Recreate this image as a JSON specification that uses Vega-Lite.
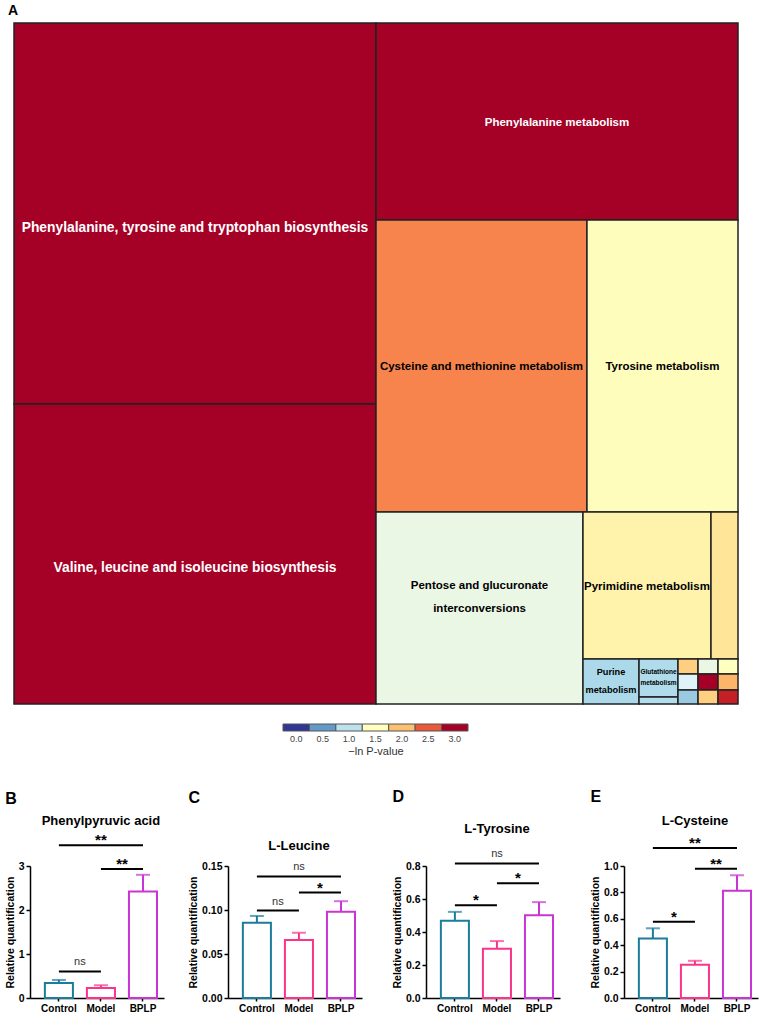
{
  "$schema": "https://vega.github.io/schema/vega-lite/v6.json",
  "padding": {"left": 5, "top": 4, "right": 5, "bottom": 5},
  "background": "white",
  "config": {
    "font": "Liberation Sans",
    "view": {"stroke": null},
    "axis": {"grid": false, "labelOverlap": false},
    "title": {"fontWeight": "bold", "color": "black", "font": "Liberation Sans"}
  },
  "datasets": {
    "treemap": [
      {"label": "Phenylalanine, tyrosine and tryptophan biosynthesis", "v": 3.0, "x0": 0, "x1": 50, "y0": 0, "y1": 55.95},
      {"label": "Valine, leucine and isoleucine biosynthesis", "v": 3.0, "x0": 0, "x1": 50, "y0": 55.95, "y1": 100},
      {"label": "Phenylalanine metabolism", "v": 3.0, "x0": 50, "x1": 100, "y0": 0, "y1": 28.93},
      {"label": "Cysteine and methionine metabolism", "v": 2.3, "x0": 50, "x1": 79.14, "y0": 28.93, "y1": 71.81},
      {"label": "Tyrosine metabolism", "v": 1.52, "x0": 79.14, "x1": 100, "y0": 28.93, "y1": 71.81},
      {"label": "Pentose and glucuronate\ninterconversions", "v": 1.3, "x0": 50, "x1": 78.59, "y0": 71.81, "y1": 100},
      {"label": "Pyrimidine metabolism", "v": 1.62, "x0": 78.59, "x1": 96.27, "y0": 71.81, "y1": 93.39},
      {"label": "", "v": 1.75, "x0": 96.27, "x1": 100, "y0": 71.81, "y1": 93.39},
      {"label": "Purine\nmetabolism", "v": 0.9, "x0": 78.59, "x1": 86.33, "y0": 93.39, "y1": 100},
      {"label": "Glutathione\nmetabolism", "v": 0.92, "x0": 86.33, "x1": 91.71, "y0": 93.39, "y1": 98.97},
      {"label": "", "v": 0.95, "x0": 86.33, "x1": 91.71, "y0": 98.97, "y1": 100},
      {"label": "", "v": 1.9, "x0": 91.71, "x1": 94.48, "y0": 93.39, "y1": 95.59},
      {"label": "", "v": 1.3, "x0": 94.48, "x1": 97.24, "y0": 93.39, "y1": 95.59},
      {"label": "", "v": 1.5, "x0": 97.24, "x1": 100, "y0": 93.39, "y1": 95.59},
      {"label": "", "v": 1.2, "x0": 91.71, "x1": 94.48, "y0": 95.59, "y1": 97.94},
      {"label": "", "v": 3.0, "x0": 94.48, "x1": 97.24, "y0": 95.59, "y1": 97.94},
      {"label": "", "v": 2.05, "x0": 97.24, "x1": 100, "y0": 95.59, "y1": 97.94},
      {"label": "", "v": 0.8, "x0": 91.71, "x1": 94.48, "y0": 97.94, "y1": 100},
      {"label": "", "v": 1.9, "x0": 94.48, "x1": 97.24, "y0": 97.94, "y1": 100},
      {"label": "", "v": 2.8, "x0": 97.24, "x1": 100, "y0": 97.94, "y1": 100}
    ],
    "legend": [
      {"lab": "0.0", "v": 0}, {"lab": "0.5", "v": 0.5}, {"lab": "1.0", "v": 1}, {"lab": "1.5", "v": 1.5},
      {"lab": "2.0", "v": 2}, {"lab": "2.5", "v": 2.5}, {"lab": "3.0", "v": 3}
    ],
    "bars": [
      {"panel": "B", "group": "Control", "mean": 0.34, "upper": 0.41},
      {"panel": "B", "group": "Model", "mean": 0.23, "upper": 0.29},
      {"panel": "B", "group": "BPLP", "mean": 2.42, "upper": 2.80},
      {"panel": "C", "group": "Control", "mean": 0.0854, "upper": 0.0933},
      {"panel": "C", "group": "Model", "mean": 0.0659, "upper": 0.0741},
      {"panel": "C", "group": "BPLP", "mean": 0.0979, "upper": 0.110},
      {"panel": "D", "group": "Control", "mean": 0.468, "upper": 0.522},
      {"panel": "D", "group": "Model", "mean": 0.299, "upper": 0.345},
      {"panel": "D", "group": "BPLP", "mean": 0.502, "upper": 0.581},
      {"panel": "E", "group": "Control", "mean": 0.450, "upper": 0.528},
      {"panel": "E", "group": "Model", "mean": 0.251, "upper": 0.282},
      {"panel": "E", "group": "BPLP", "mean": 0.812, "upper": 0.930}
    ],
    "sig": [
      {"panel": "B", "g1": "Control", "g2": "Model", "y": 0.60, "ty": 0.81, "label": "ns", "span": 1},
      {"panel": "B", "g1": "Model", "g2": "BPLP", "y": 2.93, "ty": 3.13, "label": "**", "span": 1},
      {"panel": "B", "g1": "Control", "g2": "BPLP", "y": 3.47, "ty": 3.69, "label": "**", "span": 2},
      {"panel": "C", "g1": "Control", "g2": "Model", "y": 0.0993, "ty": 0.109, "label": "ns", "span": 1},
      {"panel": "C", "g1": "Model", "g2": "BPLP", "y": 0.120, "ty": 0.130, "label": "*", "span": 1},
      {"panel": "C", "g1": "Control", "g2": "BPLP", "y": 0.138, "ty": 0.149, "label": "ns", "span": 2},
      {"panel": "D", "g1": "Control", "g2": "Model", "y": 0.562, "ty": 0.617, "label": "*", "span": 1},
      {"panel": "D", "g1": "Model", "g2": "BPLP", "y": 0.695, "ty": 0.749, "label": "*", "span": 1},
      {"panel": "D", "g1": "Control", "g2": "BPLP", "y": 0.815, "ty": 0.871, "label": "ns", "span": 2},
      {"panel": "E", "g1": "Control", "g2": "Model", "y": 0.578, "ty": 0.646, "label": "*", "span": 1},
      {"panel": "E", "g1": "Model", "g2": "BPLP", "y": 0.98, "ty": 1.044, "label": "**", "span": 1},
      {"panel": "E", "g1": "Control", "g2": "BPLP", "y": 1.136, "ty": 1.203, "label": "**", "span": 2}
    ],
    "titles": [
      {"panel": "B", "title": "Phenylpyruvic acid", "ty": 4.02},
      {"panel": "C", "title": "L-Leucine", "ty": 0.173},
      {"panel": "D", "title": "L-Tyrosine", "ty": 1.024},
      {"panel": "E", "title": "L-Cysteine", "ty": 1.344}
    ]
  },
  "resolve": {"scale": {"color": "independent", "fill": "independent", "stroke": "independent"}},
  "spacing": 32,
  "vconcat": [
    {
      "spacing": 18,
      "vconcat": [
        {
          "width": 708,
          "height": 681,
          "title": {"text": "A", "anchor": "start", "frame": "group", "dx": -22, "fontSize": 14, "offset": 4},
          "data": {"name": "treemap"},
          "layer": [
            {
              "mark": {"type": "rect", "stroke": "#222222", "strokeWidth": 1.5},
              "encoding": {
                "x": {"field": "x0", "type": "quantitative", "scale": {"domain": [0, 100], "range": [-16, 708], "nice": false, "zero": false}, "axis": null},
                "x2": {"field": "x1"},
                "y": {"field": "y0", "type": "quantitative", "scale": {"domain": [0, 100], "nice": false, "zero": false, "reverse": true}, "axis": null},
                "y2": {"field": "y1"},
                "fill": {"field": "v", "type": "quantitative", "legend": null,
                  "scale": {"domain": [0, 0.3, 0.6, 0.9, 1.2, 1.5, 1.8, 2.1, 2.4, 2.7, 3.0],
                    "range": ["#313695", "#4575b4", "#74add1", "#abd9e9", "#e0f3f8", "#ffffbf", "#fee090", "#fdae61", "#f46d43", "#d73027", "#a50026"],
                    "interpolate": "rgb"}}
              }
            },
            {
              "transform": [
                {"filter": "datum.label != '' && datum.x0 == 0"},
                {"calculate": "(datum.x0 + datum.x1) / 2", "as": "cx"},
                {"calculate": "(datum.y0 + datum.y1) / 2", "as": "cy"}
              ],
              "mark": {"type": "text", "fontWeight": "bold", "fontSize": 13.8, "baseline": "middle", "align": "center", "dy": 14},
              "encoding": {
                "x": {"field": "cx", "type": "quantitative"},
                "y": {"field": "cy", "type": "quantitative"},
                "text": {"field": "label"},
                "color": {"condition": {"test": "datum.v >= 2.9", "value": "white"}, "value": "black"}
              }
            },
            {
              "transform": [
                {"filter": "datum.label != '' && datum.x0 > 0 && (datum.x1 - datum.x0) > 10 && indexof(datum.label, '\\n') < 0"},
                {"calculate": "(datum.x0 + datum.x1) / 2", "as": "cx"},
                {"calculate": "(datum.y0 + datum.y1) / 2", "as": "cy"}
              ],
              "mark": {"type": "text", "fontWeight": "bold", "fontSize": 11.5, "baseline": "middle", "align": "center", "dy": 1},
              "encoding": {
                "x": {"field": "cx", "type": "quantitative"},
                "y": {"field": "cy", "type": "quantitative"},
                "text": {"field": "label"},
                "color": {"condition": {"test": "datum.v >= 2.9", "value": "white"}, "value": "black"}
              }
            },
            {
              "transform": [
                {"filter": "indexof(datum.label, 'Pentose') == 0"},
                {"calculate": "(datum.x0 + datum.x1) / 2", "as": "cx"},
                {"calculate": "(datum.y0 + datum.y1) / 2", "as": "cy"}
              ],
              "mark": {"type": "text", "fontWeight": "bold", "fontSize": 11.5, "lineBreak": "\n", "lineHeight": 23, "baseline": "middle", "align": "center", "dy": -22, "color": "black"},
              "encoding": {
                "x": {"field": "cx", "type": "quantitative"},
                "y": {"field": "cy", "type": "quantitative"},
                "text": {"field": "label"}
              }
            },
            {
              "transform": [
                {"filter": "indexof(datum.label, 'Purine') == 0"},
                {"calculate": "(datum.x0 + datum.x1) / 2", "as": "cx"},
                {"calculate": "(datum.y0 + datum.y1) / 2", "as": "cy"}
              ],
              "mark": {"type": "text", "fontWeight": "bold", "fontSize": 9.2, "lineBreak": "\n", "lineHeight": 18, "baseline": "middle", "align": "center", "dy": -9, "color": "black"},
              "encoding": {
                "x": {"field": "cx", "type": "quantitative"},
                "y": {"field": "cy", "type": "quantitative"},
                "text": {"field": "label"}
              }
            },
            {
              "transform": [
                {"filter": "indexof(datum.label, 'Glutathione') == 0"},
                {"calculate": "(datum.x0 + datum.x1) / 2", "as": "cx"},
                {"calculate": "(datum.y0 + datum.y1) / 2", "as": "cy"}
              ],
              "mark": {"type": "text", "fontWeight": "bold", "fontSize": 6.5, "lineBreak": "\n", "lineHeight": 11, "baseline": "middle", "align": "center", "dy": -6, "color": "black"},
              "encoding": {
                "x": {"field": "cx", "type": "quantitative"},
                "y": {"field": "cy", "type": "quantitative"},
                "text": {"field": "label"}
              }
            }
          ]
        },
        {
          "width": 708,
          "height": 7,
          "data": {"name": "legend"},
          "mark": {"type": "rect", "stroke": "#555555", "strokeWidth": 1},
          "encoding": {
            "x": {"field": "lab", "type": "ordinal", "scale": {"range": [253, 438], "paddingInner": 0, "paddingOuter": 0},
              "axis": {"orient": "bottom", "domain": false, "ticks": false, "labelAngle": 0, "labelFontSize": 9, "labelColor": "#444444", "labelPadding": 3,
                "title": "−ln P-value", "titleFontSize": 11, "titleFontWeight": "normal", "titleColor": "#333333", "titlePadding": 2}},
            "fill": {"field": "v", "type": "quantitative", "legend": null,
              "scale": {"domain": [0, 0.3, 0.6, 0.9, 1.2, 1.5, 1.8, 2.1, 2.4, 2.7, 3.0],
                "range": ["#313695", "#4575b4", "#74add1", "#abd9e9", "#e0f3f8", "#ffffbf", "#fee090", "#fdae61", "#f46d43", "#d73027", "#a50026"],
                "interpolate": "rgb"}}
          }
        }
      ]
    },
    {
      "spacing": 64,
      "bounds": "flush",
      "resolve": {"scale": {"x": "independent", "y": "independent"}},
      "hconcat": [
        {
          "width": 134, "height": 132,
          "title": {"text": "B", "anchor": "start", "frame": "bounds", "fontSize": 16, "offset": 8},
          "layer": [
            {"data": {"name": "bars"}, "transform": [{"filter": "datum.panel == 'B'"}],
              "mark": {"type": "bar", "fill": "white", "strokeWidth": 2},
              "encoding": {
                "x": {"field": "group", "type": "nominal", "sort": null, "scale": {"domain": ["Control", "Model", "BPLP"], "paddingInner": 0.333, "paddingOuter": 0.26, "align": 0.68},
                  "axis": {"title": null, "labelAngle": 0, "labelFontSize": 10, "labelFontWeight": "bold", "labelColor": "black", "labelPadding": 2, "domainColor": "black", "domainWidth": 1.5, "tickColor": "black", "tickWidth": 1.5, "tickSize": 3}},
                "y": {"field": "mean", "type": "quantitative", "scale": {"domain": [0, 3], "nice": false},
                  "axis": {"values": [0, 1, 2, 3], "tickCount": 10, "format": "d", "labelOverlap": false, "title": "Relative quantification", "titleFontSize": 10.5, "titleFontWeight": "bold", "titleColor": "black", "titlePadding": 3, "labelFontSize": 10.5, "labelFontWeight": "bold", "labelColor": "black", "labelPadding": 2, "domainColor": "black", "domainWidth": 1.5, "tickColor": "black", "tickWidth": 1.5, "tickSize": 4}},
                "stroke": {"field": "group", "type": "nominal", "legend": null, "scale": {"domain": ["Control", "Model", "BPLP"], "range": ["#1c7c9c", "#f9348a", "#c934d4"]}}
              }},
            {"data": {"name": "bars"}, "transform": [{"filter": "datum.panel == 'B'"}],
              "mark": {"type": "rule", "strokeWidth": 2},
              "encoding": {
                "x": {"field": "group", "type": "nominal"},
                "y": {"field": "mean", "type": "quantitative"}, "y2": {"field": "upper"},
                "color": {"field": "group", "type": "nominal", "legend": null, "scale": {"domain": ["Control", "Model", "BPLP"], "range": ["#1c7c9c", "#f9348a", "#c934d4"]}}
              }},
            {"data": {"name": "bars"}, "transform": [{"filter": "datum.panel == 'B'"}],
              "mark": {"type": "tick", "thickness": 2, "size": 14, "orient": "horizontal"},
              "encoding": {
                "x": {"field": "group", "type": "nominal"},
                "y": {"field": "upper", "type": "quantitative"},
                "color": {"field": "group", "type": "nominal", "legend": null, "scale": {"domain": ["Control", "Model", "BPLP"], "range": ["#1c7c9c", "#f9348a", "#c934d4"]}}
              }},
            {"data": {"name": "sig"}, "transform": [{"filter": "datum.panel == 'B'"}],
              "mark": {"type": "rule", "strokeWidth": 2, "color": "black"},
              "encoding": {"x": {"field": "g1", "type": "nominal"}, "x2": {"field": "g2"}, "y": {"field": "y", "type": "quantitative"}}},
            {"data": {"name": "sig"}, "transform": [{"filter": "datum.panel == 'B' && datum.span == 1 && datum.label == 'ns'"}],
              "mark": {"type": "text", "fontSize": 11, "color": "#333333", "baseline": "middle"},
              "encoding": {"x": {"field": "g1", "type": "nominal", "bandPosition": 1.25}, "y": {"field": "ty", "type": "quantitative"}, "text": {"field": "label"}}},
            {"data": {"name": "sig"}, "transform": [{"filter": "datum.panel == 'B' && datum.span == 1 && datum.label != 'ns'"}],
              "mark": {"type": "text", "fontSize": 15, "fontWeight": "bold", "color": "black", "baseline": "middle", "dy": 4},
              "encoding": {"x": {"field": "g1", "type": "nominal", "bandPosition": 1.25}, "y": {"field": "ty", "type": "quantitative"}, "text": {"field": "label"}}},
            {"data": {"name": "sig"}, "transform": [{"filter": "datum.panel == 'B' && datum.span == 2 && datum.label == 'ns'"}],
              "mark": {"type": "text", "fontSize": 11, "color": "#333333", "baseline": "middle"},
              "encoding": {"x": {"field": "g1", "type": "nominal", "bandPosition": 2.0}, "y": {"field": "ty", "type": "quantitative"}, "text": {"field": "label"}}},
            {"data": {"name": "sig"}, "transform": [{"filter": "datum.panel == 'B' && datum.span == 2 && datum.label != 'ns'"}],
              "mark": {"type": "text", "fontSize": 15, "fontWeight": "bold", "color": "black", "baseline": "middle", "dy": 4},
              "encoding": {"x": {"field": "g1", "type": "nominal", "bandPosition": 2.0}, "y": {"field": "ty", "type": "quantitative"}, "text": {"field": "label"}}},
            {"data": {"name": "titles"}, "transform": [{"filter": "datum.panel == 'B'"}],
              "mark": {"type": "text", "fontSize": 13, "fontWeight": "bold", "color": "black", "baseline": "middle"},
              "encoding": {"x": {"datum": "Model"}, "y": {"field": "ty", "type": "quantitative"}, "text": {"field": "title"}}}
          ]
        },
        {
          "width": 134, "height": 132,
          "title": {"text": "C", "anchor": "start", "frame": "bounds", "fontSize": 16, "offset": 34},
          "layer": [
            {"data": {"name": "bars"}, "transform": [{"filter": "datum.panel == 'C'"}],
              "mark": {"type": "bar", "fill": "white", "strokeWidth": 2},
              "encoding": {
                "x": {"field": "group", "type": "nominal", "sort": null, "scale": {"domain": ["Control", "Model", "BPLP"], "paddingInner": 0.333, "paddingOuter": 0.26, "align": 0.68},
                  "axis": {"title": null, "labelAngle": 0, "labelFontSize": 10, "labelFontWeight": "bold", "labelColor": "black", "labelPadding": 2, "domainColor": "black", "domainWidth": 1.5, "tickColor": "black", "tickWidth": 1.5, "tickSize": 3}},
                "y": {"field": "mean", "type": "quantitative", "scale": {"domain": [0, 0.15], "nice": false},
                  "axis": {"values": [0, 0.05, 0.10, 0.15], "tickCount": 10, "format": ".2f", "labelOverlap": false, "title": "Relative quantification", "titleFontSize": 10.5, "titleFontWeight": "bold", "titleColor": "black", "titlePadding": 3, "labelFontSize": 10.5, "labelFontWeight": "bold", "labelColor": "black", "labelPadding": 2, "domainColor": "black", "domainWidth": 1.5, "tickColor": "black", "tickWidth": 1.5, "tickSize": 4}},
                "stroke": {"field": "group", "type": "nominal", "legend": null, "scale": {"domain": ["Control", "Model", "BPLP"], "range": ["#1c7c9c", "#f9348a", "#c934d4"]}}
              }},
            {"data": {"name": "bars"}, "transform": [{"filter": "datum.panel == 'C'"}],
              "mark": {"type": "rule", "strokeWidth": 2},
              "encoding": {
                "x": {"field": "group", "type": "nominal"},
                "y": {"field": "mean", "type": "quantitative"}, "y2": {"field": "upper"},
                "color": {"field": "group", "type": "nominal", "legend": null, "scale": {"domain": ["Control", "Model", "BPLP"], "range": ["#1c7c9c", "#f9348a", "#c934d4"]}}
              }},
            {"data": {"name": "bars"}, "transform": [{"filter": "datum.panel == 'C'"}],
              "mark": {"type": "tick", "thickness": 2, "size": 14, "orient": "horizontal"},
              "encoding": {
                "x": {"field": "group", "type": "nominal"},
                "y": {"field": "upper", "type": "quantitative"},
                "color": {"field": "group", "type": "nominal", "legend": null, "scale": {"domain": ["Control", "Model", "BPLP"], "range": ["#1c7c9c", "#f9348a", "#c934d4"]}}
              }},
            {"data": {"name": "sig"}, "transform": [{"filter": "datum.panel == 'C'"}],
              "mark": {"type": "rule", "strokeWidth": 2, "color": "black"},
              "encoding": {"x": {"field": "g1", "type": "nominal"}, "x2": {"field": "g2"}, "y": {"field": "y", "type": "quantitative"}}},
            {"data": {"name": "sig"}, "transform": [{"filter": "datum.panel == 'C' && datum.span == 1 && datum.label == 'ns'"}],
              "mark": {"type": "text", "fontSize": 11, "color": "#333333", "baseline": "middle"},
              "encoding": {"x": {"field": "g1", "type": "nominal", "bandPosition": 1.25}, "y": {"field": "ty", "type": "quantitative"}, "text": {"field": "label"}}},
            {"data": {"name": "sig"}, "transform": [{"filter": "datum.panel == 'C' && datum.span == 1 && datum.label != 'ns'"}],
              "mark": {"type": "text", "fontSize": 15, "fontWeight": "bold", "color": "black", "baseline": "middle", "dy": 4},
              "encoding": {"x": {"field": "g1", "type": "nominal", "bandPosition": 1.25}, "y": {"field": "ty", "type": "quantitative"}, "text": {"field": "label"}}},
            {"data": {"name": "sig"}, "transform": [{"filter": "datum.panel == 'C' && datum.span == 2 && datum.label == 'ns'"}],
              "mark": {"type": "text", "fontSize": 11, "color": "#333333", "baseline": "middle"},
              "encoding": {"x": {"field": "g1", "type": "nominal", "bandPosition": 2.0}, "y": {"field": "ty", "type": "quantitative"}, "text": {"field": "label"}}},
            {"data": {"name": "sig"}, "transform": [{"filter": "datum.panel == 'C' && datum.span == 2 && datum.label != 'ns'"}],
              "mark": {"type": "text", "fontSize": 15, "fontWeight": "bold", "color": "black", "baseline": "middle", "dy": 4},
              "encoding": {"x": {"field": "g1", "type": "nominal", "bandPosition": 2.0}, "y": {"field": "ty", "type": "quantitative"}, "text": {"field": "label"}}},
            {"data": {"name": "titles"}, "transform": [{"filter": "datum.panel == 'C'"}],
              "mark": {"type": "text", "fontSize": 13, "fontWeight": "bold", "color": "black", "baseline": "middle"},
              "encoding": {"x": {"datum": "Model"}, "y": {"field": "ty", "type": "quantitative"}, "text": {"field": "title"}}}
          ]
        },
        {
          "width": 134, "height": 132,
          "title": {"text": "D", "anchor": "start", "frame": "bounds", "fontSize": 16, "offset": 18},
          "layer": [
            {"data": {"name": "bars"}, "transform": [{"filter": "datum.panel == 'D'"}],
              "mark": {"type": "bar", "fill": "white", "strokeWidth": 2},
              "encoding": {
                "x": {"field": "group", "type": "nominal", "sort": null, "scale": {"domain": ["Control", "Model", "BPLP"], "paddingInner": 0.333, "paddingOuter": 0.26, "align": 0.68},
                  "axis": {"title": null, "labelAngle": 0, "labelFontSize": 10, "labelFontWeight": "bold", "labelColor": "black", "labelPadding": 2, "domainColor": "black", "domainWidth": 1.5, "tickColor": "black", "tickWidth": 1.5, "tickSize": 3}},
                "y": {"field": "mean", "type": "quantitative", "scale": {"domain": [0, 0.8], "nice": false},
                  "axis": {"values": [0, 0.2, 0.4, 0.6, 0.8], "tickCount": 10, "format": ".1f", "labelOverlap": false, "title": "Relative quantification", "titleFontSize": 10.5, "titleFontWeight": "bold", "titleColor": "black", "titlePadding": 3, "labelFontSize": 10.5, "labelFontWeight": "bold", "labelColor": "black", "labelPadding": 2, "domainColor": "black", "domainWidth": 1.5, "tickColor": "black", "tickWidth": 1.5, "tickSize": 4}},
                "stroke": {"field": "group", "type": "nominal", "legend": null, "scale": {"domain": ["Control", "Model", "BPLP"], "range": ["#1c7c9c", "#f9348a", "#c934d4"]}}
              }},
            {"data": {"name": "bars"}, "transform": [{"filter": "datum.panel == 'D'"}],
              "mark": {"type": "rule", "strokeWidth": 2},
              "encoding": {
                "x": {"field": "group", "type": "nominal"},
                "y": {"field": "mean", "type": "quantitative"}, "y2": {"field": "upper"},
                "color": {"field": "group", "type": "nominal", "legend": null, "scale": {"domain": ["Control", "Model", "BPLP"], "range": ["#1c7c9c", "#f9348a", "#c934d4"]}}
              }},
            {"data": {"name": "bars"}, "transform": [{"filter": "datum.panel == 'D'"}],
              "mark": {"type": "tick", "thickness": 2, "size": 14, "orient": "horizontal"},
              "encoding": {
                "x": {"field": "group", "type": "nominal"},
                "y": {"field": "upper", "type": "quantitative"},
                "color": {"field": "group", "type": "nominal", "legend": null, "scale": {"domain": ["Control", "Model", "BPLP"], "range": ["#1c7c9c", "#f9348a", "#c934d4"]}}
              }},
            {"data": {"name": "sig"}, "transform": [{"filter": "datum.panel == 'D'"}],
              "mark": {"type": "rule", "strokeWidth": 2, "color": "black"},
              "encoding": {"x": {"field": "g1", "type": "nominal"}, "x2": {"field": "g2"}, "y": {"field": "y", "type": "quantitative"}}},
            {"data": {"name": "sig"}, "transform": [{"filter": "datum.panel == 'D' && datum.span == 1 && datum.label == 'ns'"}],
              "mark": {"type": "text", "fontSize": 11, "color": "#333333", "baseline": "middle"},
              "encoding": {"x": {"field": "g1", "type": "nominal", "bandPosition": 1.25}, "y": {"field": "ty", "type": "quantitative"}, "text": {"field": "label"}}},
            {"data": {"name": "sig"}, "transform": [{"filter": "datum.panel == 'D' && datum.span == 1 && datum.label != 'ns'"}],
              "mark": {"type": "text", "fontSize": 15, "fontWeight": "bold", "color": "black", "baseline": "middle", "dy": 4},
              "encoding": {"x": {"field": "g1", "type": "nominal", "bandPosition": 1.25}, "y": {"field": "ty", "type": "quantitative"}, "text": {"field": "label"}}},
            {"data": {"name": "sig"}, "transform": [{"filter": "datum.panel == 'D' && datum.span == 2 && datum.label == 'ns'"}],
              "mark": {"type": "text", "fontSize": 11, "color": "#333333", "baseline": "middle"},
              "encoding": {"x": {"field": "g1", "type": "nominal", "bandPosition": 2.0}, "y": {"field": "ty", "type": "quantitative"}, "text": {"field": "label"}}},
            {"data": {"name": "sig"}, "transform": [{"filter": "datum.panel == 'D' && datum.span == 2 && datum.label != 'ns'"}],
              "mark": {"type": "text", "fontSize": 15, "fontWeight": "bold", "color": "black", "baseline": "middle", "dy": 4},
              "encoding": {"x": {"field": "g1", "type": "nominal", "bandPosition": 2.0}, "y": {"field": "ty", "type": "quantitative"}, "text": {"field": "label"}}},
            {"data": {"name": "titles"}, "transform": [{"filter": "datum.panel == 'D'"}],
              "mark": {"type": "text", "fontSize": 13, "fontWeight": "bold", "color": "black", "baseline": "middle"},
              "encoding": {"x": {"datum": "Model"}, "y": {"field": "ty", "type": "quantitative"}, "text": {"field": "title"}}}
          ]
        },
        {
          "width": 134, "height": 132,
          "title": {"text": "E", "anchor": "start", "frame": "bounds", "fontSize": 16, "offset": 10},
          "layer": [
            {"data": {"name": "bars"}, "transform": [{"filter": "datum.panel == 'E'"}],
              "mark": {"type": "bar", "fill": "white", "strokeWidth": 2},
              "encoding": {
                "x": {"field": "group", "type": "nominal", "sort": null, "scale": {"domain": ["Control", "Model", "BPLP"], "paddingInner": 0.333, "paddingOuter": 0.26, "align": 0.68},
                  "axis": {"title": null, "labelAngle": 0, "labelFontSize": 10, "labelFontWeight": "bold", "labelColor": "black", "labelPadding": 2, "domainColor": "black", "domainWidth": 1.5, "tickColor": "black", "tickWidth": 1.5, "tickSize": 3}},
                "y": {"field": "mean", "type": "quantitative", "scale": {"domain": [0, 1], "nice": false},
                  "axis": {"values": [0, 0.2, 0.4, 0.6, 0.8, 1.0], "tickCount": 10, "format": ".1f", "labelOverlap": false, "title": "Relative quantification", "titleFontSize": 10.5, "titleFontWeight": "bold", "titleColor": "black", "titlePadding": 3, "labelFontSize": 10.5, "labelFontWeight": "bold", "labelColor": "black", "labelPadding": 2, "domainColor": "black", "domainWidth": 1.5, "tickColor": "black", "tickWidth": 1.5, "tickSize": 4}},
                "stroke": {"field": "group", "type": "nominal", "legend": null, "scale": {"domain": ["Control", "Model", "BPLP"], "range": ["#1c7c9c", "#f9348a", "#c934d4"]}}
              }},
            {"data": {"name": "bars"}, "transform": [{"filter": "datum.panel == 'E'"}],
              "mark": {"type": "rule", "strokeWidth": 2},
              "encoding": {
                "x": {"field": "group", "type": "nominal"},
                "y": {"field": "mean", "type": "quantitative"}, "y2": {"field": "upper"},
                "color": {"field": "group", "type": "nominal", "legend": null, "scale": {"domain": ["Control", "Model", "BPLP"], "range": ["#1c7c9c", "#f9348a", "#c934d4"]}}
              }},
            {"data": {"name": "bars"}, "transform": [{"filter": "datum.panel == 'E'"}],
              "mark": {"type": "tick", "thickness": 2, "size": 14, "orient": "horizontal"},
              "encoding": {
                "x": {"field": "group", "type": "nominal"},
                "y": {"field": "upper", "type": "quantitative"},
                "color": {"field": "group", "type": "nominal", "legend": null, "scale": {"domain": ["Control", "Model", "BPLP"], "range": ["#1c7c9c", "#f9348a", "#c934d4"]}}
              }},
            {"data": {"name": "sig"}, "transform": [{"filter": "datum.panel == 'E'"}],
              "mark": {"type": "rule", "strokeWidth": 2, "color": "black"},
              "encoding": {"x": {"field": "g1", "type": "nominal"}, "x2": {"field": "g2"}, "y": {"field": "y", "type": "quantitative"}}},
            {"data": {"name": "sig"}, "transform": [{"filter": "datum.panel == 'E' && datum.span == 1 && datum.label == 'ns'"}],
              "mark": {"type": "text", "fontSize": 11, "color": "#333333", "baseline": "middle"},
              "encoding": {"x": {"field": "g1", "type": "nominal", "bandPosition": 1.25}, "y": {"field": "ty", "type": "quantitative"}, "text": {"field": "label"}}},
            {"data": {"name": "sig"}, "transform": [{"filter": "datum.panel == 'E' && datum.span == 1 && datum.label != 'ns'"}],
              "mark": {"type": "text", "fontSize": 15, "fontWeight": "bold", "color": "black", "baseline": "middle", "dy": 4},
              "encoding": {"x": {"field": "g1", "type": "nominal", "bandPosition": 1.25}, "y": {"field": "ty", "type": "quantitative"}, "text": {"field": "label"}}},
            {"data": {"name": "sig"}, "transform": [{"filter": "datum.panel == 'E' && datum.span == 2 && datum.label == 'ns'"}],
              "mark": {"type": "text", "fontSize": 11, "color": "#333333", "baseline": "middle"},
              "encoding": {"x": {"field": "g1", "type": "nominal", "bandPosition": 2.0}, "y": {"field": "ty", "type": "quantitative"}, "text": {"field": "label"}}},
            {"data": {"name": "sig"}, "transform": [{"filter": "datum.panel == 'E' && datum.span == 2 && datum.label != 'ns'"}],
              "mark": {"type": "text", "fontSize": 15, "fontWeight": "bold", "color": "black", "baseline": "middle", "dy": 4},
              "encoding": {"x": {"field": "g1", "type": "nominal", "bandPosition": 2.0}, "y": {"field": "ty", "type": "quantitative"}, "text": {"field": "label"}}},
            {"data": {"name": "titles"}, "transform": [{"filter": "datum.panel == 'E'"}],
              "mark": {"type": "text", "fontSize": 13, "fontWeight": "bold", "color": "black", "baseline": "middle"},
              "encoding": {"x": {"datum": "Model"}, "y": {"field": "ty", "type": "quantitative"}, "text": {"field": "title"}}}
          ]
        }
      ]
    }
  ]
}
